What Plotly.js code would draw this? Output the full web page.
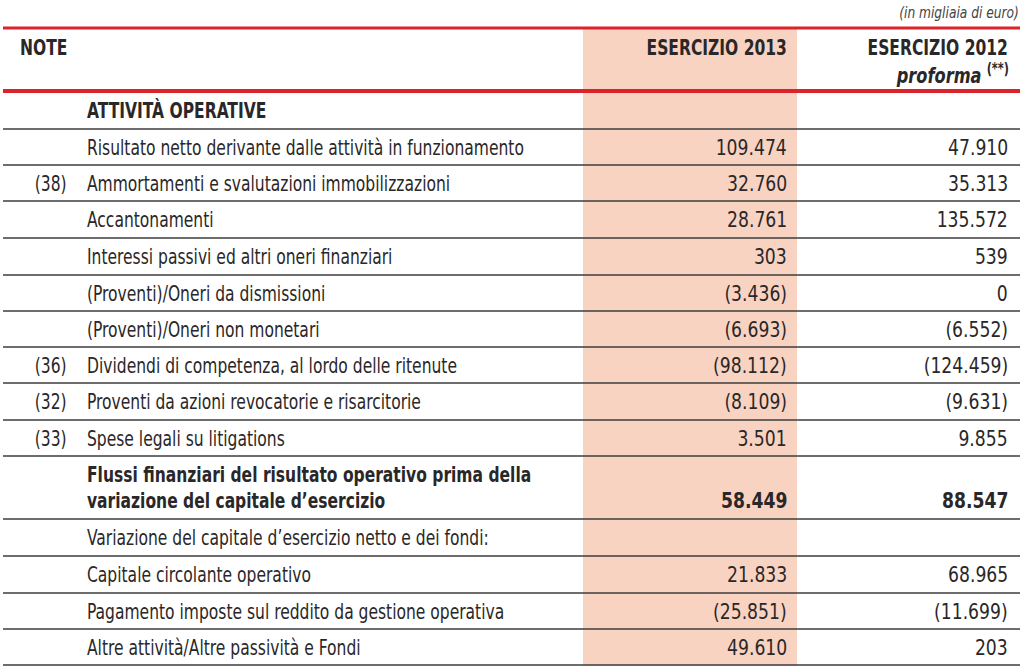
<!DOCTYPE html>
<html>
<head>
<meta charset="utf-8">
<script src="https://cdn.plot.ly/plotly-3.0.1.min.js"></script>
<style>
  html, body { margin: 0; padding: 0; background: #fff; }
  #chart { width: 1023px; height: 666px; }
</style>
</head>
<body>
<div id="chart"></div>
<script>
// ---------- DATA ----------
const notes = ["", "", "(38)", "", "", "", "", "(36)", "(32)", "(33)", "", "", "", "", ""];
const descriptions = [
  "ATTIVITÀ OPERATIVE",
  "Risultato netto derivante dalle attività in funzionamento",
  "Ammortamenti e svalutazioni immobilizzazioni",
  "Accantonamenti",
  "Interessi passivi ed altri oneri finanziari",
  "(Proventi)/Oneri da dismissioni",
  "(Proventi)/Oneri non monetari",
  "Dividendi di competenza, al lordo delle ritenute",
  "Proventi da azioni revocatorie e risarcitorie",
  "Spese legali su litigations",
  "Flussi finanziari del risultato operativo prima della<br>variazione del capitale d’esercizio",
  "Variazione del capitale d’esercizio netto e dei fondi:",
  "Capitale circolante operativo",
  "Pagamento imposte sul reddito da gestione operativa",
  "Altre attività/Altre passività e Fondi"
];
const boldRows = [true, false, false, false, false, false, false, false, false, false, true, false, false, false, false];
const esercizio2013 = [null, 109474, 32760, 28761, 303, -3436, -6693, -98112, -8109, 3501, 58449, null, 21833, -25851, 49610];
const esercizio2012 = [null, 47910, 35313, 135572, 539, 0, -6552, -124459, -9631, 9855, 88547, null, 68965, -11699, 203];
const headerNote = "NOTE";
const header2013 = "ESERCIZIO 2013";
const header2012 = "ESERCIZIO 2012";
const header2012sub = "proforma";
const header2012mark = "(**)";
const unitNote = "(in migliaia di euro)";

// ---------- LAYOUT CONSTANTS ----------
const FONT = "'Liberation Sans Narrow', 'Arial Narrow', 'DejaVu Sans Condensed', sans-serif";
const TXT = "#2a2728";
const RED = "#dc222b";
const SHADE = "#f9d3c2";
const GRID = "#3c3c3c";
const FS = 22;
const SQ_TEXT = 0.785, SQ_NUM = 0.87;
const rowEdges = [91, 129, 165, 201, 238, 275, 311, 347, 383, 420, 456, 519, 556, 593, 629, 665];
const xNoteRight = 69, xDesc = 85, x2013 = 789, x2012 = 1010;
const shadeX0 = 583, shadeX1 = 797;

function fmt(v) {
  if (v === null || v === undefined) return "";
  const s = Math.abs(v).toString().replace(/\B(?=(\d{3})+(?!\d))/g, ".");
  return v < 0 ? "(" + s + ")" : s;
}

const shapes = [];
const annotations = [];
const squeeze = [];

// shaded column
shapes.push({type: "rect", xref: "x", yref: "y", x0: shadeX0, x1: shadeX1, y0: 29, y1: 666,
  fillcolor: SHADE, line: {width: 0}, layer: "below"});
// red rules
shapes.push({type: "line", xref: "x", yref: "y", x0: 3, x1: 1020, y0: 28, y1: 28, line: {color: RED, width: 3}});
shapes.push({type: "line", xref: "x", yref: "y", x0: 3, x1: 1020, y0: rowEdges[0], y1: rowEdges[0], line: {color: RED, width: 4}});
// gray row rules
for (let i = 1; i < rowEdges.length; i++) {
  shapes.push({type: "line", xref: "x", yref: "y", x0: 3, x1: 1020, y0: rowEdges[i], y1: rowEdges[i],
    line: {color: GRID, width: 1.5}});
}

function ann(text, x, y, anchor, sq, opts) {
  opts = opts || {};
  annotations.push({
    text: text, x: x, y: y, xref: "x", yref: "y", showarrow: false,
    xanchor: anchor, yanchor: "middle", align: anchor === "right" ? "right" : "left",
    font: {family: FONT, size: opts.size || FS, color: opts.color || TXT}
  });
  squeeze.push({s: sq, anchor: anchor});
}

// unit note
ann("<i>" + unitNote + "</i>", 1021, 12, "right", 0.85, {size: 16, color: "#444"});
// header
ann("<b>" + headerNote + "</b>", 18, 47, "left", SQ_TEXT);
ann("<b>" + header2013 + "</b>", x2013, 47, "right", SQ_TEXT);
ann("<b>" + header2012 + "</b>", x2012, 47, "right", SQ_TEXT);
ann("<b><i>" + header2012sub + "</i></b> <b><sup>" + header2012mark + "</sup></b>", x2012 + 1, 74, "right", 0.82);

// rows
for (let i = 0; i < descriptions.length; i++) {
  const y0 = rowEdges[i], y1 = rowEdges[i + 1];
  const yc = (y0 + y1) / 2;
  const b = boldRows[i];
  const wrap = s => b ? "<b>" + s + "</b>" : s;
  if (notes[i]) ann(notes[i], xNoteRight, yc, "right", SQ_TEXT);
  const lines = descriptions[i].split("<br>");
  const gap = 26;
  const yFirst = yc - gap * (lines.length - 1) / 2;
  lines.forEach((ln, k) => ann(wrap(ln), xDesc, yFirst + k * gap, "left", SQ_TEXT));
  const yv = yFirst + (lines.length - 1) * gap;
  if (esercizio2013[i] !== null) ann(wrap(fmt(esercizio2013[i])), x2013, yv, "right", SQ_NUM);
  if (esercizio2012[i] !== null) ann(wrap(fmt(esercizio2012[i])), x2012, yv, "right", SQ_NUM);
}

const data = [{x: [0], y: [0], type: "scatter", mode: "markers", marker: {opacity: 0}, hoverinfo: "skip", showlegend: false}];

const layout = {
  width: 1023, height: 666,
  margin: {l: 0, r: 0, t: 0, b: 0, pad: 0},
  paper_bgcolor: "#fff", plot_bgcolor: "#fff",
  xaxis: {range: [0, 1023], visible: false, fixedrange: true},
  yaxis: {range: [666, 0], visible: false, fixedrange: true},
  shapes: shapes,
  annotations: annotations,
  showlegend: false
};

Plotly.newPlot("chart", data, layout, {displayModeBar: false, staticPlot: true}).then(gd => {
  // horizontally condense annotation text to mimic a condensed typeface
  const host = gd.getBoundingClientRect();
  gd.querySelectorAll("g.annotation").forEach(g => {
    const idx = +g.getAttribute("data-index");
    const cfg = squeeze[idx];
    if (!cfg) return;
    const t = g.querySelector("text");
    if (!t) return;
    const r = t.getBoundingClientRect();
    const ax = (cfg.anchor === "right" ? r.right : r.left) - host.left;
    g.setAttribute("transform", "translate(" + ax + ",0) scale(" + cfg.s + ",1) translate(" + (-ax) + ",0)");
  });
});
</script>
</body>
</html>
